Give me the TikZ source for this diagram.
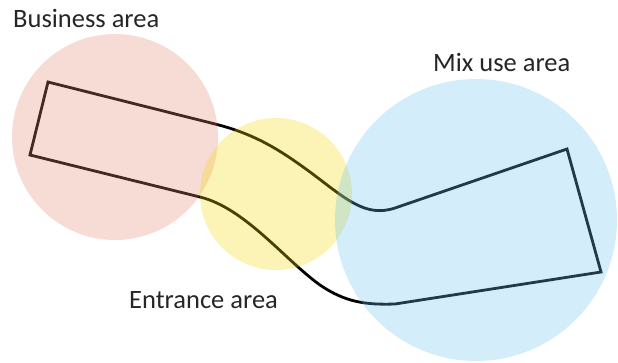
\documentclass[tikz,border=0pt]{standalone}
\usepackage{fontspec}
\setmainfont{Carlito}
\definecolor{pinkc}{RGB}{228,138,118}
\definecolor{yellowc}{RGB}{245,215,12}
\definecolor{bluec}{RGB}{108,198,238}
\definecolor{txt}{RGB}{38,38,38}
\begin{document}
\begin{tikzpicture}[x=1pt,y=-1pt,
  zone/.style={fill opacity=0.3},
  outline/.style={draw=black,line width=2.8pt,line join=miter},
  lbl/.style={anchor=base west,inner sep=0pt,text=txt,font=\fontsize{26.5}{31}\selectfont}]
\useasboundingbox (0,0) rectangle (618,362);
\draw[outline] (48,82) -- (215,124) .. controls (255,134) and (280,150) .. (310,172)
  .. controls (345,198) and (365,218) .. (395,208) -- (567,149) -- (601,272)
  -- (395,304) .. controls (365,305) and (345,302) .. (320,285)
  .. controls (285,260) and (245,208) .. (200,197) -- (30,155) -- cycle;
\fill[zone,pinkc] (115,137) circle (103);
\fill[zone,yellowc] (276,194) circle (76);
\fill[zone,bluec] (476,220) circle (141);
\node[lbl] (business) at (13,27) {Business area};
\node[lbl] (mix) at (433,71) {Mix use area};
\node[lbl] (entrance) at (129,308) {Entrance area};
\end{tikzpicture}
\end{document}
